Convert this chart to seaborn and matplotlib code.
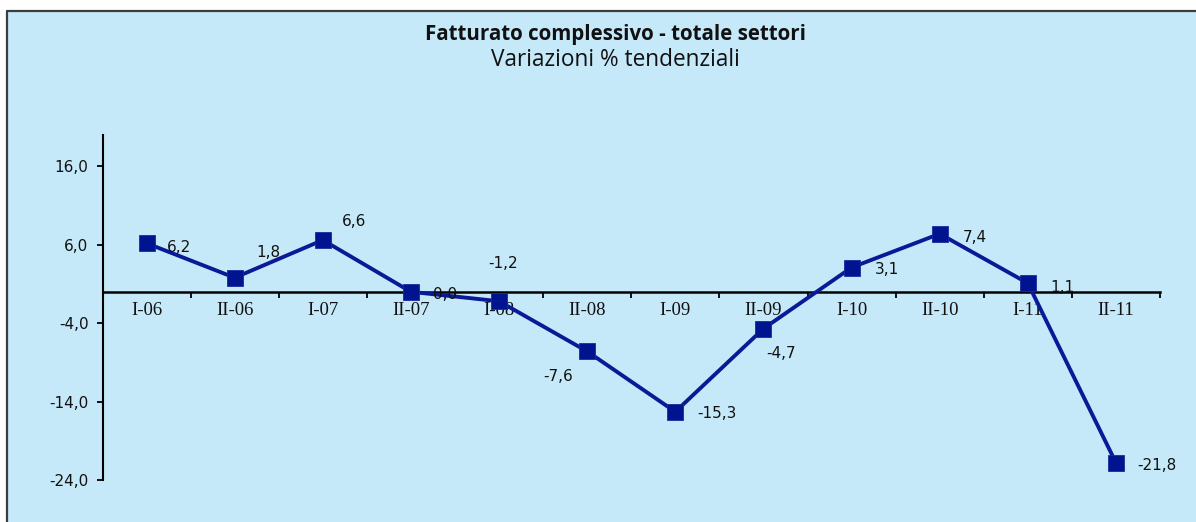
import numpy as np
import pandas as pd
import matplotlib
matplotlib.use("Agg")
import matplotlib.pyplot as plt
from matplotlib.lines import Line2D
from matplotlib.patches import Rectangle
from matplotlib.ticker import FixedLocator, FuncFormatter
import seaborn as sns

# ---- data ----
categories = ["I-06", "II-06", "I-07", "II-07", "I-08", "II-08",
              "I-09", "II-09", "I-10", "II-10", "I-11", "II-11"]
values = [6.2, 1.8, 6.6, 0.0, -1.2, -7.6, -15.3, -4.7, 3.1, 7.4, 1.1, -21.8]
y_ticks = [-24.0, -14.0, -4.0, 6.0, 16.0]
title = "Fatturato complessivo - totale settori"
subtitle = "Variazioni % tendenziali"

# label placement (pixel offsets from the point, horizontal alignment)
label_offsets = [(20, -4, "left"), (22, 25, "left"), (19, 19, "left"),
                 (22, -3, "left"), (4, 38, "center"), (-29, -25, "center"),
                 (22, -2, "left"), (3, -25, "left"), (23, -2, "left"),
                 (23, -4, "left"), (23, -4, "left"), (21, -3, "left")]

sns.set_theme(style="white")
plt.rcParams["font.family"] = ["DejaVu Sans"]

W, H, DPI = 1196, 522, 100
bg = "#C6E9F9"
fig = plt.figure(figsize=(W / DPI, H / DPI), dpi=DPI, facecolor=bg)
fig.patch.set_edgecolor(bg)
fig.patch.set_linewidth(0)

# white margin strips above and left of the framed panel
fig.patches.append(Rectangle((0, 1 - 10 / H), 1, 10 / H, transform=fig.transFigure,
                             facecolor="white", edgecolor="none", lw=0, zorder=-10))
fig.patches.append(Rectangle((0, 0), 6 / W, 1, transform=fig.transFigure,
                             facecolor="white", edgecolor="none", lw=0, zorder=-10))
fig.lines.append(Line2D([7 / W, 7 / W], [0, 1 - 11 / H], transform=fig.transFigure,
                        color="#3c3c3c", lw=1.6, zorder=-9))
fig.lines.append(Line2D([7 / W, 1], [1 - 11 / H, 1 - 11 / H], transform=fig.transFigure,
                        color="#3c3c3c", lw=1.6, zorder=-9, solid_capstyle="butt"))

left, right, top, bottom = 102.5, 1160, 135, 480
ax = fig.add_axes([left / W, (H - bottom) / H, (right - left) / W, (bottom - top) / H])
ax.set_facecolor("none")
ax.set_zorder(1)

df = pd.DataFrame({"pos": np.arange(len(categories)), "val": values})
sns.lineplot(data=df, x="pos", y="val", ax=ax, color="#0A1A96", lw=2.8,
             marker="s", markersize=12, markerfacecolor="#001490",
             markeredgecolor="#1A2A9E", markeredgewidth=0.6, zorder=3)

ax.set_xlim(-0.5, len(categories) - 0.5)
ax.set_ylim(-24, 20)
ax.set_xlabel("")
ax.set_ylabel("")

for s in ["top", "right"]:
    ax.spines[s].set_visible(False)
ax.spines["left"].set_color("black")
ax.spines["left"].set_linewidth(1.5)
ax.spines["bottom"].set_color("black")
ax.spines["bottom"].set_linewidth(1.8)
ax.spines["bottom"].set_position(("data", 0))

ax.yaxis.set_major_locator(FixedLocator(y_ticks))
ax.yaxis.set_major_formatter(FuncFormatter(lambda v, p: f"{v:.1f}".replace(".", ",")))
ax.tick_params(axis="y", which="major", direction="out", length=4, width=1.3,
               color="black", labelsize=11, pad=6, left=True, labelcolor="#111111")

ax.set_xticks(np.arange(len(categories)))
ax.set_xticklabels(categories, family="Liberation Serif", fontsize=13.5, color="#111111")
ax.set_xticks(np.arange(len(categories)) + 0.5, minor=True)
ax.tick_params(axis="x", which="major", length=0, pad=7, bottom=True)
ax.tick_params(axis="x", which="minor", direction="out", length=4, width=1.3,
               color="black", bottom=True)

for i, (v, (dx, dy, ha)) in enumerate(zip(values, label_offsets)):
    ax.annotate(f"{v:.1f}".replace(".", ","), (i, v), xytext=(dx, dy),
                textcoords="offset pixels", ha=ha, va="center",
                fontsize=11, color="#111111", zorder=4)

fig.text(615.5 / W, 1 - 40 / H, title, ha="center", va="baseline",
         fontsize=14.8, fontweight="bold", family=["Open Sans", "DejaVu Sans"], color="#111111")
fig.text(615.5 / W, 1 - 66 / H, subtitle, ha="center", va="baseline",
         fontsize=16.3, family=["Open Sans", "DejaVu Sans"], color="#111111")

fig.savefig("out.png", dpi=DPI, facecolor=bg, edgecolor=bg)
